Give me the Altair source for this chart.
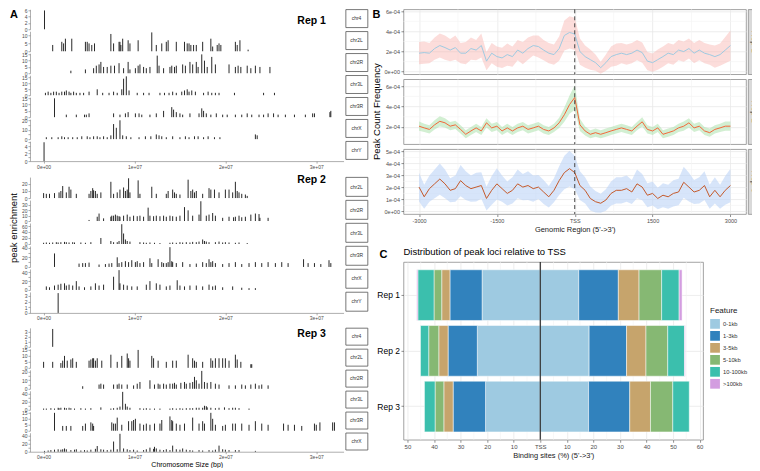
import altair as alt
import pandas as pd

FONT = "Liberation Sans"

# ---------------- Panel A : peaks along chromosomes (position in Mb, enrichment) ----------------
R1_CHR4 = [(0.1, 6)]
R1_CHR2L = [(1.0,4),(2.0,6),(2.2,5),(2.4,8),(3.1,8),(4.6,6),(4.8,6),(5.0,5),(5.3,4),(5.6,5),(7.4,11),(7.7,5),(8.3,6),(8.4,6),(8.5,4),(8.7,8),(9.3,7),(9.5,5),(10.4,7),(11.9,12),(12.4,4),(13.0,5),(13.5,6),(13.7,7),(14.6,6),(15.5,6),(15.8,5),(16.0,5),(16.2,4),(16.5,4),(16.8,4),(17.5,6),(18.4,8),(18.6,3),(19.1,4),(19.3,5),(19.5,4),(21.1,6),(21.3,4),(21.6,7),(22.5,1)]
R1_CHR2R = [(3.0,2),(4.6,3),(5.5,4),(5.8,6),(6.1,7),(6.3,9),(6.6,5),(7.0,5),(7.4,6),(7.8,6),(8.3,8),(8.8,4),(9.3,9),(9.5,3),(10.1,4),(10.4,6),(10.6,7),(11.0,5),(11.3,4),(11.7,5),(12.5,14),(12.7,6),(13.2,4),(13.9,5),(14.1,6),(14.4,5),(14.6,6),(15.3,7),(15.6,6),(16.1,9),(16.4,7),(16.8,9),(17.0,5),(17.4,15),(17.7,10),(18.0,5),(18.5,13),(18.9,7),(20.4,7),(21.1,5),(21.4,6),(21.7,5),(22.4,6),(22.8,4),(23.3,6),(23.8,5),(24.9,5)]
R1_CHR3L = [(0.2,2),(0.5,3),(0.8,2),(1.1,3),(1.4,3),(1.7,2),(2.0,3),(2.3,3),(2.5,4),(2.8,3),(3.0,2),(3.3,3),(3.6,2),(4.0,2),(4.4,2),(5.0,3),(5.9,5),(6.5,2),(7.2,2),(7.7,3),(8.1,2),(8.6,5),(8.8,14),(9.1,16),(9.4,4),(10.3,2),(11.0,2),(11.6,2),(12.8,2),(13.3,2),(13.8,2),(14.2,3),(14.6,2),(15.2,3),(15.5,4),(15.8,5),(16.0,3),(16.3,4),(16.7,3),(17.6,2),(18.1,3),(18.5,2),(18.9,2),(19.3,2),(21.0,2),(24.2,2),(25.4,2)]
R1_CHR3R = [(1.2,15),(2.5,2),(3.6,2),(4.5,2),(4.7,2),(5.0,3),(7.7,3),(8.4,2),(9.0,3),(9.3,4),(10.1,3),(10.5,3),(10.8,2),(11.7,2),(12.4,3),(13.2,5),(14.1,8),(14.3,6),(14.6,4),(15.0,3),(15.3,2),(16.1,3),(17.1,3),(17.4,7),(17.6,5),(17.9,3),(18.4,2),(19.0,3),(19.7,2),(20.2,2),(21.1,2),(21.8,2),(22.4,3),(22.9,2),(23.7,2),(24.2,2),(24.7,3),(25.3,3),(25.8,2),(26.6,2),(27.6,2),(28.8,2),(29.6,3),(29.8,3),(31.5,4),(31.6,5)]
R1_CHRX = [(0.3,2),(0.9,2),(1.6,2),(2.0,3),(2.3,2),(2.7,2),(3.2,2),(3.7,2),(4.2,3),(4.8,3),(5.1,2),(5.5,3),(5.9,3),(6.2,2),(6.6,3),(7.0,2),(7.4,4),(7.7,16),(8.0,12),(8.4,20),(8.7,4),(9.1,3),(9.6,2),(10.5,2),(11.2,3),(11.8,3),(12.4,5),(12.7,4),(13.0,3),(13.5,2),(14.2,3),(15.0,2),(15.6,3),(16.0,2),(16.6,3),(17.0,3),(17.6,2),(18.1,3),(18.8,2),(19.4,2),(23.3,5),(23.5,4)]
R1_CHRY = [(0.05, 5)]

R2_CHR2L = [(0.0,7),(0.3,6),(0.65,6),(1.2,7),(1.7,8),(1.9,10),(2.1,17),(2.5,8),(2.8,16),(3.0,12),(3.6,6),(5.0,6),(5.2,10),(5.4,14),(5.5,11),(5.7,10),(5.9,6),(6.3,8),(7.4,23),(7.7,6),(8.1,8),(8.4,12),(8.8,15),(9.0,10),(9.2,12),(9.35,28),(9.5,8),(10.4,25),(10.6,6),(11.9,16),(12.4,6),(13.5,6),(13.7,10),(14.2,12),(14.4,8),(14.6,6),(15.0,5),(15.9,26),(16.2,10),(16.4,12),(16.6,8),(16.8,10),(17.5,6),(18.2,14),(18.4,12),(18.8,12),(19.3,8),(20.0,12),(20.4,12),(20.8,8),(21.1,23),(21.3,10),(21.5,8),(21.8,6),(22.2,5),(22.4,3)]
R2_CHR2R = [(5.0,2),(5.9,8),(6.1,14),(6.6,5),(7.4,8),(7.5,10),(7.7,10),(7.9,12),(8.1,10),(8.3,9),(8.4,8),(8.8,10),(9.2,12),(9.5,8),(9.9,10),(10.3,9),(10.6,10),(11.0,8),(11.5,25),(11.7,10),(12.1,9),(12.4,10),(12.8,9),(13.2,10),(13.5,8),(13.9,10),(14.2,9),(14.6,8),(15.0,10),(15.5,26),(15.9,20),(16.4,10),(17.1,12),(17.3,37),(17.9,10),(18.2,12),(18.6,15),(18.9,10),(19.7,6),(20.4,8),(20.9,7),(21.1,8),(21.5,10),(21.8,7),(22.2,8),(22.8,12),(23.3,14),(23.7,13),(23.8,6),(24.7,6)]
R2_CHR3L = [(0.0,4),(0.3,5),(0.65,4),(1.0,5),(1.4,6),(1.6,5),(1.9,6),(2.3,7),(2.5,6),(2.8,5),(3.2,6),(3.4,5),(4.1,5),(4.6,4),(5.2,6),(6.3,20),(7.4,10),(7.7,6),(8.1,6),(8.3,10),(8.6,66),(8.8,35),(9.0,15),(9.2,10),(9.5,8),(10.6,6),(11.0,5),(11.3,4),(11.7,5),(12.2,4),(12.8,3),(13.9,4),(14.2,5),(14.6,4),(15.0,6),(15.3,5),(15.7,6),(16.1,5),(16.4,7),(16.8,6),(17.1,8),(17.5,15),(17.7,10),(17.9,8),(18.2,6),(18.9,6),(19.3,8),(19.7,5),(20.0,6),(20.4,5),(21.1,4),(21.5,5),(22.4,3)]
R2_CHR3R = [(1.2,28),(3.9,7),(4.3,8),(4.6,8),(5.0,9),(6.1,5),(6.8,6),(7.2,7),(7.5,8),(8.1,20),(8.3,8),(8.6,10),(9.0,12),(9.35,10),(9.7,14),(10.1,10),(10.3,12),(10.6,8),(11.0,10),(11.7,18),(11.9,8),(12.6,16),(13.0,10),(13.2,8),(13.5,8),(13.7,10),(13.9,41),(14.1,12),(14.2,10),(14.6,8),(15.3,10),(16.1,6),(16.8,7),(17.5,10),(17.9,8),(18.2,16),(18.4,10),(18.6,12),(18.9,8),(19.7,6),(20.4,8),(21.1,10),(21.8,6),(22.6,8),(23.3,10),(24.0,8),(24.7,10),(25.5,8),(26.2,10),(26.9,8),(28.6,16),(29.1,8),(29.8,8),(30.5,6),(31.4,14),(31.6,8)]
R2_CHRX = [(0.3,8),(0.65,6),(1.2,10),(1.6,12),(1.9,14),(2.3,15),(2.5,10),(2.8,12),(3.2,10),(3.6,20),(3.9,8),(4.5,6),(5.2,8),(5.7,15),(6.1,10),(6.6,12),(7.7,30),(8.3,45),(8.4,15),(8.8,12),(9.2,10),(9.7,8),(10.3,8),(11.3,12),(11.7,20),(12.4,15),(12.8,12),(13.5,8),(13.9,10),(14.7,22),(15.0,10),(15.5,8),(16.1,10),(16.8,10),(17.5,8),(18.2,12),(18.6,8),(18.9,10),(19.7,6),(20.8,8),(21.8,5),(22.6,4),(23.3,4)]
R2_CHRY = [(1.6, 3.5)]

R3_CHR4 = [(1.0, 3.5)]
R3_CHR2L = [(0.0,5),(1.0,5),(1.9,4),(2.1,6),(2.3,10),(2.6,6),(3.0,7),(3.2,8),(3.6,5),(5.0,6),(5.2,7),(5.4,8),(5.5,8),(5.7,6),(5.9,8),(6.4,6),(7.4,11),(8.1,5),(8.6,10),(9.2,12),(9.35,8),(9.5,6),(10.4,15),(11.9,10),(12.1,8),(12.6,6),(13.5,5),(14.2,6),(14.6,6),(15.9,11),(16.4,8),(16.6,6),(16.8,5),(17.5,5),(18.4,8),(18.6,6),(18.9,8),(19.3,8),(19.7,8),(20.0,8),(20.4,6),(21.1,11),(21.3,7),(21.7,5),(22.8,3),(22.9,3)]
R3_CHR2R = [(4.3,3),(6.1,5),(6.3,6),(6.6,5),(7.7,5),(8.1,5),(8.3,6),(8.6,5),(9.2,5),(9.9,4),(10.3,6),(10.6,8),(11.7,10),(12.2,5),(12.6,6),(12.8,5),(13.2,6),(13.5,5),(13.9,6),(14.2,6),(14.4,7),(14.6,5),(15.1,7),(15.5,8),(15.7,6),(16.1,7),(16.4,8),(16.6,14),(16.8,10),(17.1,6),(17.4,21),(17.7,8),(18.0,7),(18.4,8),(18.9,6),(19.3,5),(20.4,4),(21.1,4),(21.8,5),(22.2,4),(22.8,5),(23.3,6),(23.7,4),(24.0,5),(24.7,4)]
R3_CHR3L = [(0.0,3),(0.3,3),(0.8,4),(1.2,3),(1.6,5),(1.7,4),(1.9,5),(2.3,5),(2.5,4),(2.8,5),(3.0,4),(3.4,3),(4.1,4),(4.6,3),(5.2,4),(6.3,6),(7.4,3),(7.7,4),(8.1,5),(8.4,8),(8.7,45),(9.0,15),(9.2,8),(9.5,5),(10.6,4),(11.0,3),(11.3,4),(11.7,3),(12.2,3),(12.8,3),(13.9,3),(14.2,4),(14.6,3),(15.0,4),(15.3,3),(15.7,4),(16.1,4),(16.4,4),(16.8,5),(17.1,5),(17.5,5),(17.7,10),(17.9,9),(18.0,6),(18.4,5),(18.9,4),(19.3,5),(19.9,6),(20.4,4),(20.8,5),(21.1,5),(21.5,4),(22.6,3)]
R3_CHR3R = [(1.2,15),(2.1,4),(2.5,4),(3.0,4),(4.3,4),(4.6,6),(5.2,7),(5.4,6),(5.5,4),(7.5,7),(7.7,6),(7.9,6),(8.1,11),(8.6,5),(9.35,8),(9.7,8),(9.9,9),(10.1,10),(10.6,6),(11.0,5),(11.3,6),(11.7,5),(12.2,6),(12.8,6),(13.0,9),(13.9,12),(14.1,9),(14.2,8),(14.6,6),(15.0,5),(15.5,6),(16.4,11),(17.1,6),(17.5,8),(17.7,6),(18.4,15),(18.6,10),(18.9,5),(19.7,4),(20.0,5),(20.8,6),(21.1,6),(21.8,6),(22.6,5),(23.3,8),(24.0,6),(24.7,5),(26.4,6),(26.9,5),(27.6,5),(28.4,4),(29.8,6),(30.0,5),(30.4,7),(31.8,7),(32.0,7)]
R3_CHRX = [(0.1,2),(0.5,3),(0.8,4),(1.2,5),(1.6,6),(1.9,5),(2.1,6),(2.3,8),(2.5,6),(3.0,4),(3.4,5),(3.6,6),(4.1,3),(4.5,4),(4.8,3),(5.2,5),(5.7,7),(5.9,14),(6.3,6),(6.6,5),(7.0,4),(7.4,5),(7.7,25),(8.1,6),(8.4,44),(8.8,8),(9.2,6),(9.5,4),(9.9,5),(10.3,3),(11.0,4),(11.3,6),(11.7,10),(12.1,7),(12.2,12),(12.4,8),(12.8,5),(13.2,4),(13.5,6),(13.9,4),(14.2,15),(14.6,6),(15.0,5),(15.3,8),(15.7,5),(16.1,4),(16.4,3),(17.1,4),(17.5,3),(18.2,4),(18.6,3),(18.9,5),(19.3,15),(19.7,6),(20.0,5),(20.4,4),(21.1,4),(21.5,4),(23.3,2)]

A_XTICKS = [0, 10, 20, 30]

# ---------------- Panel B : peak count frequency around TSS (values x 1e-4) ----------------
B_POS = [-3000,-2900,-2800,-2700,-2600,-2500,-2400,-2300,-2200,-2100,-2000,-1900,-1800,-1700,-1600,-1500,-1400,-1300,-1200,-1100,-1000,-900,-800,-700,-600,-500,-400,-300,-200,-100,0,100,200,300,400,500,600,700,800,900,1000,1100,1200,1300,1400,1500,1600,1700,1800,1900,2000,2100,2200,2300,2400,2500,2600,2700,2800,2900,3000]
B_REP1 = [1.84,1.90,1.84,2.30,2.60,2.40,2.15,2.40,1.84,1.84,
          2.30,2.15,2.60,1.05,1.84,1.50,1.37,1.70,1.50,2.15,
          1.84,2.30,2.60,2.50,2.15,1.84,1.70,2.30,3.60,3.90,
          3.75,2.00,1.50,1.20,0.90,0.40,0.90,1.50,1.70,1.84,
          1.70,1.84,2.15,1.90,1.05,0.90,1.20,1.50,1.84,1.70,
          2.15,2.00,2.30,1.84,2.15,1.84,1.70,1.50,1.70,2.15,2.60]
B_REP1_HW = [1.1,1.1,1.0,1.1,1.2,1.2,1.1,1.2,1.0,1.1,
             1.1,1.0,1.2,0.9,1.0,1.0,1.0,1.1,1.0,1.0,
             1.1,1.1,1.0,1.1,1.0,1.0,1.0,1.2,1.5,1.6,
             1.6,1.3,1.1,1.0,0.8,0.6,0.8,1.0,1.1,1.0,
             1.0,1.0,1.0,1.0,0.9,0.9,1.0,1.0,1.0,1.0,
             1.0,1.0,1.0,1.0,1.0,1.0,1.0,1.1,1.1,1.3,1.5]
B_REP2 = [2.07,1.90,1.75,2.20,2.55,2.40,2.07,2.20,1.75,1.27,
          1.60,1.90,1.60,2.40,1.90,2.07,1.60,1.90,1.60,1.90,
          2.07,1.75,1.90,2.07,1.75,1.60,1.90,2.40,3.20,4.20,
          4.90,2.20,1.60,1.27,1.43,1.27,1.43,1.60,1.75,1.90,
          1.75,1.60,2.07,2.50,1.75,1.60,1.90,1.27,1.43,1.60,
          1.90,2.07,2.40,1.90,2.07,1.60,1.43,1.75,1.90,2.07,2.07]
B_REP2_HW = [0.45,0.4,0.4,0.45,0.5,0.45,0.4,0.4,0.4,0.4,
             0.4,0.4,0.4,0.45,0.4,0.4,0.4,0.4,0.4,0.4,
             0.4,0.4,0.4,0.4,0.4,0.4,0.4,0.5,0.7,0.9,
             1.2,0.6,0.45,0.4,0.4,0.4,0.4,0.4,0.4,0.4,
             0.4,0.4,0.4,0.45,0.4,0.4,0.4,0.4,0.4,0.4,
             0.4,0.45,0.45,0.4,0.4,0.4,0.4,0.4,0.4,0.45,0.45]
B_REP3 = [2.03,1.22,1.90,2.30,2.70,2.30,1.76,1.90,2.57,2.16,
          1.90,2.03,2.16,1.08,1.76,2.30,1.90,1.50,1.76,2.30,
          2.03,2.16,1.90,2.03,1.62,1.22,1.76,2.57,3.24,3.57,
          3.24,2.16,1.76,1.08,0.81,0.68,0.95,1.50,1.76,1.76,
          1.90,1.62,2.30,2.03,1.35,1.50,1.08,1.35,1.22,1.50,
          1.62,2.43,2.03,1.62,1.76,2.16,1.22,1.76,1.22,1.76,2.16]
B_REP3_HW = [1.2,1.0,1.1,1.2,1.3,1.2,1.0,1.1,1.3,1.2,
             1.1,1.2,1.1,1.0,1.2,1.3,1.1,1.0,1.1,1.2,
             1.1,1.2,1.1,1.0,1.0,0.9,1.0,1.2,1.4,1.5,
             1.4,1.2,1.1,1.0,0.9,0.8,0.9,1.0,1.1,1.1,
             1.1,1.0,1.2,1.1,1.0,1.0,0.9,1.0,1.0,1.1,
             1.1,1.3,1.2,1.0,1.1,1.2,1.0,1.1,1.0,1.2,1.4]
B_XTICKS = [-3000, -1500, 0, 1500, 3000]
B_MINOR_X = [-2250, -750, 750, 2250]

# ---------------- Panel C : distribution of peaks relative to TSS (%) ----------------
C_REPS = ["Rep 1", "Rep 2", "Rep 3"]
C_FEATURES = ["0-1kb", "1-3kb", "3-5kb", "5-10kb", "10-100kb", ">100kb"]
C_COLORS = ["#9ecae1", "#3182bd", "#c6a46c", "#86b873", "#3bbfad", "#d39de0"]
C_REP1_UP = [21.9, 12.1, 3.1, 2.9, 6.1, 0.4]
C_REP1_DOWN = [14.5, 14.9, 7.8, 8.5, 6.6, 1.1]
C_REP2_UP = [23.7, 11.0, 3.5, 3.8, 3.1, 0.0]
C_REP2_DOWN = [18.4, 14.1, 7.3, 8.2, 6.3, 0.3]
C_REP3_UP = [20.6, 12.2, 3.5, 3.3, 4.0, 0.0]
C_REP3_DOWN = [18.2, 15.5, 7.8, 8.4, 6.2, 0.0]
C_XTICKS = [-50, -40, -30, -20, -10, 0, 10, 20, 30, 40, 50, 60]
C_MINOR_X = [-45, -35, -25, -15, -5, 5, 15, 25, 35, 45, 55]

GRID = "#e8e8e8"
MINOR = "#f3f3f3"


def label(text, x, y, size, bold=False, angle=0, align="center", baseline="middle", color="black"):
    return alt.Chart(pd.DataFrame({"t": [text]})).mark_text(
        font=FONT, fontSize=size, fontWeight="bold" if bold else "normal",
        angle=angle, align=align, baseline=baseline, color=color
    ).encode(text="t:N", x=alt.value(x), y=alt.value(y))


# ---------------- Panel A construction ----------------
A_W = 314


def a_row(points, height, last=False, xtitle=None, extras=()):
    df = pd.DataFrame(points, columns=["pos", "h"])
    ymax = float(df["h"].max()) * 1.06
    if last:
        kw = dict(values=A_XTICKS, grid=False,
                  labelExpr="datum.value == 0 ? '0e+00' : (datum.value / 10) + 'e+07'",
                  labelFontSize=5, labelColor="#4d4d4d", tickSize=2, labelPadding=1,
                  domainColor="#777", tickColor="#777", domainWidth=0.6, tickWidth=0.6)
        if xtitle:
            kw.update(title=xtitle, titleFontSize=7, titleFontWeight="normal", titlePadding=1)
        else:
            kw.update(title=None)
        xaxis = alt.Axis(**kw)
    else:
        xaxis = None
    yaxis = alt.Axis(title=None, labelFontSize=5, labelColor="#4d4d4d", tickSize=2, labelPadding=1,
                     tickCount=4, grid=False, domainColor="#777", tickColor="#777",
                     domainWidth=0.6, tickWidth=0.6)
    base = alt.Chart(df).mark_rule(color="#111", strokeWidth=0.9).encode(
        x=alt.X("pos:Q", scale=alt.Scale(domain=[-1.5, 33.0], nice=False, zero=False), axis=xaxis),
        y=alt.Y("h:Q", scale=alt.Scale(domain=[0, ymax], nice=False), axis=yaxis),
        y2=alt.datum(0),
    )
    ch = alt.layer(base, *extras) if extras else base
    return ch.properties(width=A_W, height=height)


def a_strip(name, height):
    return alt.Chart(pd.DataFrame({"t": [name]})).mark_text(
        font=FONT, fontSize=5, color="#333"
    ).encode(text="t:N").properties(
        width=22, height=height - 2,
        view=alt.ViewBackground(stroke="#555", strokeWidth=0.8, fill="white"))


REPS_A = [
    ("Rep 1", [("chr4", R1_CHR4), ("chr2L", R1_CHR2L), ("chr2R", R1_CHR2R), ("chr3L", R1_CHR3L),
               ("chr3R", R1_CHR3R), ("chrX", R1_CHRX), ("chrY", R1_CHRY)], 20, 12),
    ("Rep 2", [("chr2L", R2_CHR2L), ("chr2R", R2_CHR2R), ("chr3L", R2_CHR3L), ("chr3R", R2_CHR3R),
               ("chrX", R2_CHRX), ("chrY", R2_CHRY)], 21, 3),
    ("Rep 3", [("chr4", R3_CHR4), ("chr2L", R3_CHR2L), ("chr2R", R3_CHR2R), ("chr3L", R3_CHR3L),
               ("chr3R", R3_CHR3R), ("chrX", R3_CHRX)], 19, 6),
]

rep_grids = []
for ri, (rep, rows, rh, ty) in enumerate(REPS_A):
    cells = []
    n = len(rows)
    for j, (chrom, pts) in enumerate(rows):
        extras = []
        if j == 0:
            extras.append(label(rep, 282, ty, 10.5, bold=True))
            if ri == 0:
                extras.append(label("A", -16, 0, 11, bold=True, baseline="top"))
        if ri == 1 and j == 2:
            extras.append(label("peak enrichment", -16, 5, 9.5, angle=270))
        last = j == n - 1
        xt = "Chromosome Size (bp)" if (last and ri == 2) else None
        cells.append(a_row(pts, rh, last=last, xtitle=xt, extras=extras))
        cells.append(a_strip(chrom, rh))
    rep_grids.append(alt.concat(*cells, columns=2, spacing=2, align="each", bounds="flush"))

left = alt.vconcat(*rep_grids, spacing=6)

# ---------------- Panel B construction ----------------
B_W, B_H = 343, 65
ylab = "datum.value == 0 ? '0e+00' : datum.value + 'e-04'"


def b_row(vals, hw, ydom, yticks, minor_y, line_color, band_color, band_op, last=False, extras=()):
    df = pd.DataFrame({"x": B_POS, "v": vals,
                       "lo": [v - h for v, h in zip(vals, hw)],
                       "hi": [v + h for v, h in zip(vals, hw)]})
    xs = alt.Scale(domain=[-3300, 3300], nice=False, zero=False)
    ys = alt.Scale(domain=ydom, nice=False, zero=False)
    kw = dict(values=B_XTICKS, grid=True, gridColor=GRID, gridWidth=0.8, domain=False)
    if last:
        kw.update(labelExpr="datum.value == 0 ? 'TSS' : '' + datum.value", labelFontSize=5.5,
                  labelColor="#4d4d4d", tickSize=2.5, tickColor="#444", tickWidth=0.6, labelPadding=1.5,
                  title="Genomic Region (5'->3')", titleFontSize=7.5, titleFontWeight="normal",
                  titlePadding=2, titleColor="#1a1a1a")
    else:
        kw.update(labels=False, ticks=False, title=None)
    xax = alt.Axis(**kw)
    yax = alt.Axis(values=yticks, grid=True, gridColor=GRID, gridWidth=0.8, domain=False,
                   labelExpr=ylab, labelFontSize=5.5, labelColor="#4d4d4d", tickSize=2.5,
                   tickColor="#444", tickWidth=0.6, labelPadding=1.5, title=None)
    mv = alt.Chart(pd.DataFrame({"x": B_MINOR_X})).mark_rule(color=MINOR, strokeWidth=0.6).encode(
        x=alt.X("x:Q", scale=xs, axis=xax))
    mh = alt.Chart(pd.DataFrame({"y": minor_y})).mark_rule(color=MINOR, strokeWidth=0.6).encode(
        y=alt.Y("y:Q", scale=ys, axis=yax))
    band = alt.Chart(df).mark_area(color=band_color, opacity=band_op, clip=True).encode(
        x=alt.X("x:Q", scale=xs, axis=xax), y=alt.Y("lo:Q", scale=ys, axis=yax), y2="hi:Q")
    line = alt.Chart(df).mark_line(color=line_color, strokeWidth=1.0, clip=True).encode(
        x=alt.X("x:Q", scale=xs, axis=xax), y=alt.Y("v:Q", scale=ys, axis=yax))
    tss = alt.Chart(pd.DataFrame({"x": [0]})).mark_rule(color="#444", strokeDash=[4, 3], strokeWidth=1).encode(
        x=alt.X("x:Q", scale=xs, axis=xax))
    return alt.layer(mv, mh, band, line, tss, *extras).properties(
        width=B_W, height=B_H, view=alt.ViewBackground(stroke="#8c8c8c", strokeWidth=0.8, fill="white"))


def b_strip(name):
    return alt.Chart(pd.DataFrame({"t": [name]})).mark_text(
        font=FONT, fontSize=8.5, color="#1a1a1a", angle=90
    ).encode(text="t:N").properties(
        width=13, height=B_H,
        view=alt.ViewBackground(stroke="#8c8c8c", strokeWidth=0.8, fill="#d9d9d9"))


b1 = b_row(B_REP1, B_REP1_HW, [-0.25, 6.2], [0, 2, 4, 6], [1, 3, 5], "#9ecae1", "#f9b3b0", 0.45,
           extras=[label("B", -27, 0, 11, bold=True, baseline="top")])
b2 = b_row(B_REP2, B_REP2_HW, [0.3, 6.7], [2, 4, 6], [1, 3, 5], "#f2673a", "#a6dfa6", 0.5,
           extras=[label("Peak Count Frequency", -27, B_H / 2, 9.5, angle=270)])
b3 = b_row(B_REP3, B_REP3_HW, [-0.22, 5.2], [0, 1, 2, 3, 4, 5], [0.5, 1.5, 2.5, 3.5, 4.5],
           "#c4592a", "#bcd3f7", 0.6, last=True)

bgrid = alt.concat(b1, b_strip("Rep 1"), b2, b_strip("Rep 2"), b3, b_strip("Rep 3"),
                   columns=2, spacing={"row": 5, "column": 2}, align="each", bounds="flush")

# ---------------- Panel C construction ----------------
C_W, C_H = 300, 178
crow = []
for rep, up, down in [("Rep 1", C_REP1_UP, C_REP1_DOWN), ("Rep 2", C_REP2_UP, C_REP2_DOWN),
                      ("Rep 3", C_REP3_UP, C_REP3_DOWN)]:
    for i, f in enumerate(C_FEATURES):
        if up[i] > 0:
            crow.append({"rep": rep, "feature": f, "idx": i, "value": -up[i]})
        if down[i] > 0:
            crow.append({"rep": rep, "feature": f, "idx": i, "value": down[i]})
cdf = pd.DataFrame(crow)

cxs = alt.Scale(domain=[-51.5, 61.3], nice=False, zero=False)
cxax = alt.Axis(values=C_XTICKS, grid=True, gridColor=GRID, gridWidth=0.8, domain=False,
                labelExpr="datum.value == 0 ? 'TSS' : '' + abs(datum.value)", labelFontSize=6,
                labelColor="#4d4d4d", tickSize=2.5, tickColor="#444", tickWidth=0.6, labelPadding=1.5,
                title="Binding sites (%) (5'->3')", titleFontSize=7.5, titleFontWeight="normal",
                titlePadding=2, titleColor="#1a1a1a")
cyax = alt.Axis(title=None, labelFontSize=8.5, labelColor="black", tickSize=2.5, tickColor="#444",
                tickWidth=0.6, labelPadding=1.5, domain=False, grid=True, gridColor=GRID,
                gridWidth=0.8, bandPosition=0.5)
cys = alt.Scale(domain=C_REPS, paddingInner=0.09, paddingOuter=0.14)

cminor = alt.Chart(pd.DataFrame({"x": C_MINOR_X})).mark_rule(color=MINOR, strokeWidth=0.6).encode(
    x=alt.X("x:Q", scale=cxs, axis=cxax))
cbars = alt.Chart(cdf).mark_bar(stroke="white", strokeWidth=0.5).encode(
    x=alt.X("value:Q", stack="zero", scale=cxs, axis=cxax),
    y=alt.Y("rep:N", scale=cys, axis=cyax),
    color=alt.Color("feature:N", scale=alt.Scale(domain=C_FEATURES, range=C_COLORS),
                    legend=alt.Legend(title="Feature", orient="none", legendX=307, legendY=45,
                                      titleFontSize=8, titleFontWeight="normal", titleColor="#1a1a1a",
                                      titlePadding=4, labelFontSize=5.8, labelColor="#333",
                                      symbolType="square", symbolSize=95, symbolStrokeWidth=0,
                                      symbolOpacity=1, rowPadding=2, labelOffset=3)),
    order=alt.Order("idx:Q"),
)
crule = alt.Chart(pd.DataFrame({"x": [0]})).mark_rule(color="#1a1a1a", strokeWidth=1.1).encode(
    x=alt.X("x:Q", scale=cxs, axis=cxax))
cchart = alt.layer(
    cminor, cbars, crule,
    label("Distribution of peak loci relative to TSS", 0, -10, 9.5, align="left"),
    label("C", -20, -7, 11, bold=True),
).properties(width=C_W, height=C_H,
             view=alt.ViewBackground(stroke="#8c8c8c", strokeWidth=0.8, fill="white"))

right = alt.vconcat(bgrid, cchart, spacing=12).resolve_legend(color="independent")

chart = alt.hconcat(left, right, spacing=2).resolve_legend(color="independent").properties(
    padding={"left": 0, "top": 0, "right": -10, "bottom": 0}
).configure(font=FONT).configure_view(stroke=None)

chart.save("out.html", embed_options={"renderer": "svg", "actions": False})
